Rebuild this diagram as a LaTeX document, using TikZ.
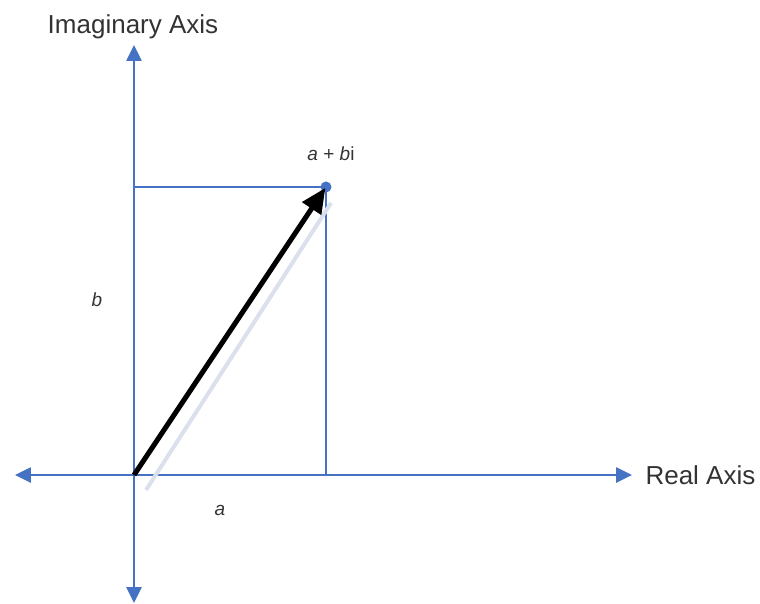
\documentclass[tikz,border=0pt]{standalone}
\usepackage{fontspec}
\setmainfont{Liberation Sans}
\usetikzlibrary{arrows.meta}
\definecolor{axisblue}{RGB}{70,114,196}
\definecolor{shadowgrey}{RGB}{218,224,236}
\begin{document}
\begin{tikzpicture}[x=1pt,y=1pt,
    axis/.style={draw=axisblue,line width=2.6pt,-{Triangle[length=16pt,width=15pt]}},
    guide/.style={draw=axisblue,line width=2.2pt},
    vertex/.style={circle,fill=axisblue,minimum size=11pt,inner sep=0pt},
    biglabel/.style={font=\fontsize{26}{31}\selectfont,text=black!80},
    smalllabel/.style={font=\fontsize{19}{23}\selectfont,text=black!80}]
\useasboundingbox (-134,-128) rectangle (626,475);
\coordinate (O) at (0,0);
\coordinate (xl) at (-119,0);
\coordinate (xr) at (498,0);
\coordinate (yt) at (0,430);
\coordinate (yb) at (0,-128);
\coordinate (px) at (192,0);
\coordinate (py) at (0,288);
\node[vertex] (P) at (192,288) {};
% axes
\draw[axis] (O) -- (xr);
\draw[axis] (O) -- (xl);
\draw[axis] (O) -- (yt);
\draw[axis] (O) -- (yb);
% projections
\draw[guide] (py) -- (P.center);
\draw[guide] (P.center) -- (px);
% shadow and vector
\draw[shadowgrey,line width=4pt] (12,-15) -- (197,272);
\draw[line width=5pt,-{Triangle[length=25pt,width=22pt]},shorten >=1pt] (O) -- (P.center);
% labels
\node[biglabel] (imag) at (-1,448) {Imaginary Axis};
\node[biglabel,anchor=west] (real) at (508,0) {Real Axis};
\node[smalllabel] (z) at (197,321) {\textit{a} + \textit{b}i};
\node[smalllabel] (b) at (-37,175) {\textit{b}};
\node[smalllabel] (a) at (86,-35) {\textit{a}};
\end{tikzpicture}
\end{document}
